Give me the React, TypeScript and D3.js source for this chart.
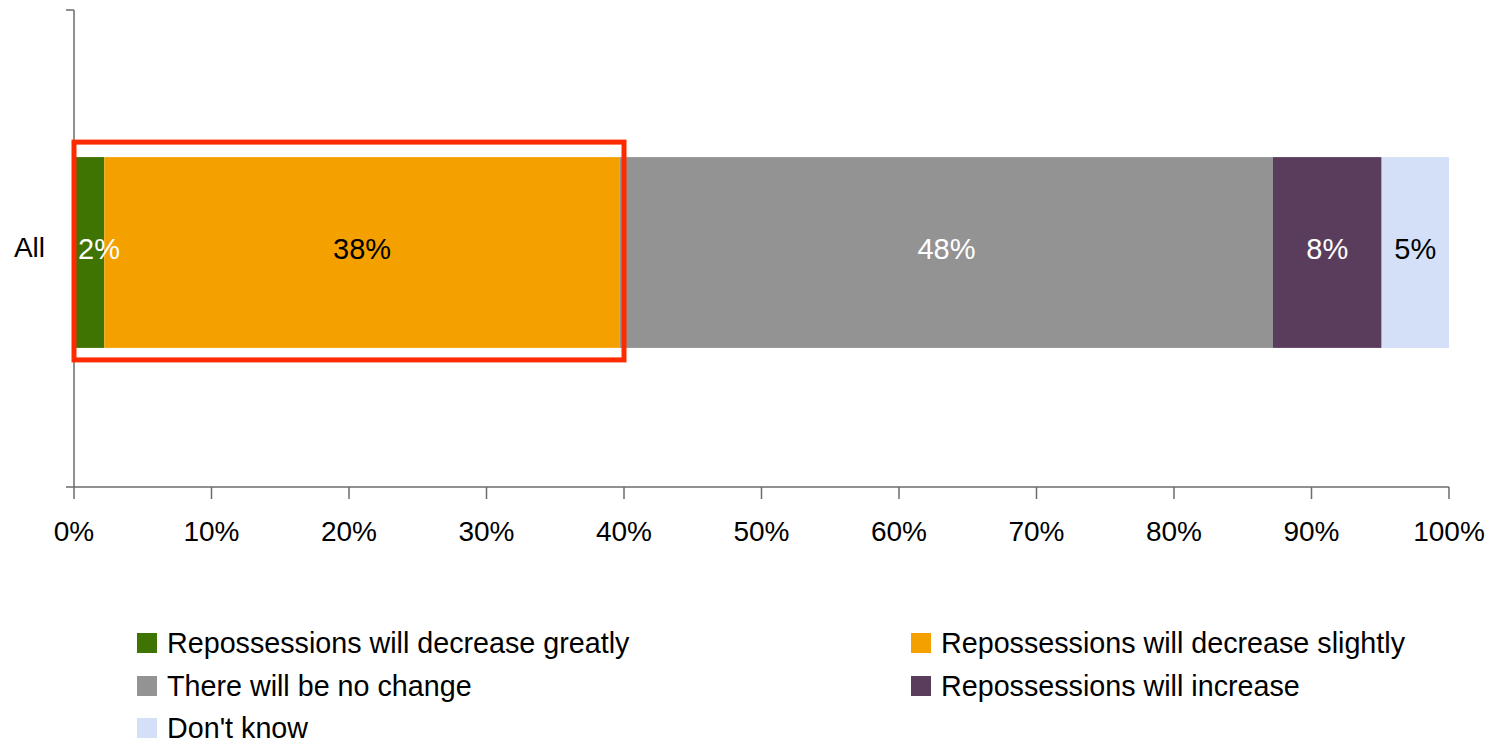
import React from 'react';
import * as d3 from 'd3';

const categories = ['All'];
const seriesNames = [
  'Repossessions will decrease greatly',
  'Repossessions will decrease slightly',
  'There will be no change',
  'Repossessions will increase',
  "Don't know",
];
const seriesValues = [2.2, 37.5, 47.5, 7.9, 4.9];
const xTicks = [0, 10, 20, 30, 40, 50, 60, 70, 80, 90, 100];
const highlightRange = [0, 40];

const seriesColors = ['#3f7302', '#f4a100', '#939393', '#5a3d5c', '#d4e0f8'];
const labelColors = ['#ffffff', '#000000', '#ffffff', '#ffffff', '#000000'];

const W = 1488;
const H = 744;
const FONT = '"Liberation Sans", Arial, sans-serif';

export default function App() {
  const x = d3.scaleLinear().domain([0, 100]).range([74, 1449]);
  const y = d3.scaleBand<string>().domain(categories).range([10, 487]).paddingInner(0).paddingOuter(0.75).align(0.514);

  const stackData = [Object.fromEntries(seriesNames.map((n, i) => [n, seriesValues[i]]))];
  const stacked = d3.stack<any>().keys(seriesNames)(stackData as any);

  const axisColor = '#6b6b6b';
  const bandTop = y(categories[0])!;
  const bw = y.bandwidth();
  const cy = bandTop + bw / 2;

  const legendCols = [137, 911];
  const legendRows = [643, 686, 728];

  return (
    <svg width={W} height={H} style={{ position: 'absolute', left: 0, top: 0, display: 'block', background: '#fff' }} fontFamily={FONT}>
      {/* bars */}
      {stacked.map((s, i) =>
        s.map((d, j) => (
          <rect
            key={`r-${i}-${j}`}
            x={x(d[0])}
            y={y(categories[j])!}
            width={x(d[1]) - x(d[0])}
            height={bw}
            fill={seriesColors[i]}
          />
        ))
      )}
      {/* value labels */}
      {stacked.map((s, i) =>
        s.map((d, j) => {
          const x0 = x(d[0]);
          const x1 = x(d[1]);
          const w = x1 - x0;
          const narrow = w < 40;
          return (
            <text
              key={`t-${i}-${j}`}
              x={narrow ? x0 + 4 : (x0 + x1) / 2}
              y={cy - 4}
              textAnchor={narrow ? 'start' : 'middle'}
              dominantBaseline="central"
              fontSize={29}
              fill={labelColors[i]}
            >
              {`${Math.round(d[1] - d[0])}%`}
            </text>
          );
        })
      )}

      {/* y axis */}
      <line x1={x(0)} x2={x(0)} y1={10} y2={487} stroke={axisColor} strokeWidth={1.5} />
      {[10, 487].map((t) => (
        <line key={t} x1={x(0) - 8} x2={x(0)} y1={t} y2={t} stroke={axisColor} strokeWidth={1.5} />
      ))}
      {categories.map((c) => (
        <text key={c} x={45} y={cy - 5} textAnchor="end" dominantBaseline="central" fontSize={28} fill="#000">
          {c}
        </text>
      ))}

      {/* x axis */}
      <line x1={x(0)} x2={x(100)} y1={487} y2={487} stroke={axisColor} strokeWidth={1.5} />
      {xTicks.map((t) => (
        <g key={t}>
          <line x1={x(t)} x2={x(t)} y1={487} y2={499} stroke={axisColor} strokeWidth={1.5} />
          <text x={x(t)} y={541} textAnchor="middle" fontSize={28} fill="#000">
            {`${t}%`}
          </text>
        </g>
      ))}

      {/* highlight rectangle */}
      <rect
        x={x(highlightRange[0])}
        y={bandTop - 15}
        width={x(highlightRange[1]) - x(highlightRange[0])}
        height={bw + 27}
        fill="none"
        stroke="#ff2a00"
        strokeWidth={5}
      />

      {/* legend */}
      {seriesNames.map((n, i) => {
        const lx = legendCols[i % 2];
        const ly = legendRows[Math.floor(i / 2)];
        return (
          <g key={n}>
            <rect x={lx} y={ly - 10} width={20} height={20} fill={seriesColors[i]} />
            <text x={lx + 30} y={ly} dominantBaseline="central" fontSize={28.7} fill="#000">
              {n}
            </text>
          </g>
        );
      })}
    </svg>
  );
}
